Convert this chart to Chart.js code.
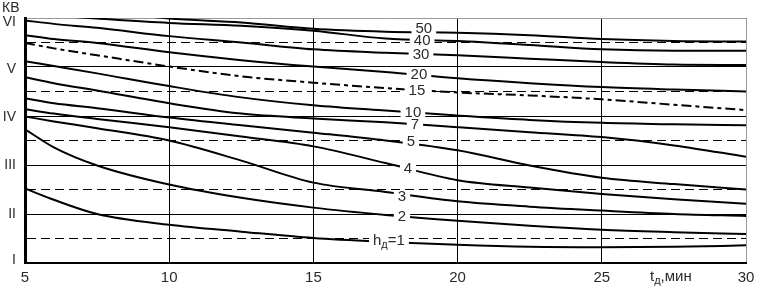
<!DOCTYPE html>
<html>
<head>
<meta charset="utf-8">
<script src="https://cdn.jsdelivr.net/npm/chart.js@4.4.0/dist/chart.umd.min.js"></script>
<style>
  html, body { margin: 0; padding: 0; background: #fff; }
  #chart { display: block; }
</style>
</head>
<body>
<canvas id="chart" width="761" height="290"></canvas>
<script>
// time, min
const tValues = [5, 6, 7.5, 10, 12.5, 15, 17.5, 20, 22.5, 25, 27.5, 30]

// visibility class (1 = I ... 6 = VI) for each h
const h50 = [6.30, 6.24, 6.15, 5.99, 5.91, 5.78, 5.72, 5.70, 5.65, 5.57, 5.53, 5.52]
const h40 = [6.10, 6.05, 5.99, 5.90, 5.84, 5.74, 5.58, 5.53, 5.45, 5.36, 5.33, 5.33]
const h30 = [5.95, 5.88, 5.80, 5.63, 5.50, 5.36, 5.29, 5.24, 5.17, 5.10, 5.05, 5.04]
const h20 = [5.65, 5.57, 5.49, 5.30, 5.14, 5.01, 4.90, 4.77, 4.67, 4.59, 4.54, 4.50]
const h15 = [5.49, 5.38, 5.24, 5.01, 4.81, 4.68, 4.57, 4.48, 4.42, 4.34, 4.23, 4.12]
const h10 = [5.12, 5.02, 4.87, 4.61, 4.38, 4.22, 4.11, 4.01, 3.92, 3.86, 3.83, 3.81]
const h7  = [4.79, 4.67, 4.52, 4.26, 4.05, 3.95, 3.87, 3.77, 3.67, 3.57, 3.40, 3.17]
const h5  = [4.36, 4.26, 4.16, 3.97, 3.81, 3.66, 3.50, 3.30, 2.99, 2.74, 2.61, 2.50]
const h4  = [4.14, 4.05, 3.94, 3.77, 3.58, 3.38, 3.04, 2.69, 2.54, 2.41, 2.30, 2.21]
const h3  = [3.99, 3.89, 3.75, 3.50, 3.09, 2.64, 2.45, 2.26, 2.15, 2.07, 2.00, 1.96]
const h2  = [3.73, 3.36, 2.99, 2.60, 2.33, 2.13, 1.98, 1.86, 1.76, 1.68, 1.63, 1.59]
const h1  = [2.52, 2.29, 2.00, 1.78, 1.64, 1.51, 1.43, 1.37, 1.33, 1.32, 1.33, 1.36]

const curveNames = ['50', '40', '30', '20', '15', '10', '7', '5', '4', '3', '2', '1']
const curveData = [h50, h40, h30, h20, h15, h10, h7, h5, h4, h3, h2, h1]

// where the h labels sit on the curves
const labelT  = [18.83, 18.77, 18.73, 18.66, 18.59, 18.45, 18.52, 18.38, 18.28, 18.07, 18.07, 17.62]
const labelKV = [5.77, 5.53, 5.25, 4.83, 4.51, 4.06, 3.81, 3.48, 2.93, 2.36, 1.94, 1.45]

const romanValues = [1, 2, 3, 4, 5, 6]
const romanNames = ['I', 'II', 'III', 'IV', 'V', 'VI']
const romanShift = [-3, 0, 0, 1, 2, 4]

const FONT = '"Liberation Sans", Arial, sans-serif'
const TEXT_COLOR = '#2a2a2a'

// draw text made of pieces, [text, size, dy]
function drawParts(ctx, parts, x, cy, align) {
    let total = 0
    const widths = parts.map(p => {
        ctx.font = p[1] + 'px ' + FONT
        const w = ctx.measureText(p[0]).width
        total += w
        return w
    })
    let cx = x
    if (align === 'center') cx = x - total / 2
    if (align === 'right') cx = x - total
    parts.forEach((p, i) => {
        ctx.font = p[1] + 'px ' + FONT
        ctx.fillText(p[0], cx, cy + p[2])
        cx += widths[i]
    })
    return total
}

const curveLabelPlugin = {
    id: 'curveLabels',
    afterDatasetsDraw(chart) {
        const ctx = chart.ctx
        const xs = chart.scales.x
        const ys = chart.scales.y
        ctx.save()
        ctx.textBaseline = 'middle'
        ctx.textAlign = 'left'
        for (let i = 0; i < curveNames.length; i++) {
            const px = xs.getPixelForValue(labelT[i])
            const py = ys.getPixelForValue(labelKV[i])
            let parts = [[curveNames[i], 15, 0]]
            if (curveNames[i] === '1') {
                parts = [['h', 15, 0], ['д', 11, 4], ['=1', 15, 0]]
            }
            let w = 0
            parts.forEach(p => {
                ctx.font = p[1] + 'px ' + FONT
                w += ctx.measureText(p[0]).width
            })
            const hgt = curveNames[i] === '1' ? 13 : 12
            ctx.fillStyle = '#fff'
            ctx.fillRect(px - w / 2 - 4, py - hgt / 2, w + 8, hgt)
            ctx.fillStyle = TEXT_COLOR
            drawParts(ctx, parts, px, py, 'center')
        }
        ctx.restore()
    },
    afterDraw(chart) {
        const ctx = chart.ctx
        const area = chart.chartArea
        const ys = chart.scales.y
        ctx.save()
        ctx.textBaseline = 'middle'
        ctx.textAlign = 'left'
        ctx.fillStyle = TEXT_COLOR
        // roman class labels on the left
        romanValues.forEach((v, i) => {
            drawParts(ctx, [[romanNames[i], 14, 0]], area.left - 9, ys.getPixelForValue(v) + romanShift[i], 'right')
        })
        // axis titles
        drawParts(ctx, [['КВ', 14, 0]], 2, 8, 'left')
        drawParts(ctx, [['t', 15, 0], ['д', 11, 4], [',мин', 15, 0]], area.right - 96, area.bottom + 14, 'left')
        ctx.restore()
    }
}

const datasets = curveData.map((vals, i) => ({
    label: curveNames[i],
    data: tValues.map((t, j) => ({ x: t, y: vals[j] })),
    borderColor: '#000',
    borderWidth: 2,
    borderDash: curveNames[i] === '15' ? [10, 4, 4, 4] : [],
    fill: false,
    pointRadius: 0,
    tension: 0.4,
    cubicInterpolationMode: 'monotone'
}))

new Chart(document.getElementById('chart'), {
    type: 'line',
    data: { datasets: datasets },
    options: {
        responsive: false,
        animation: false,
        devicePixelRatio: 1,
        layout: { padding: { top: 18, right: 15, left: 0, bottom: 0 } },
        plugins: {
            legend: { display: false },
            tooltip: { enabled: false }
        },
        scales: {
            x: {
                type: 'linear',
                min: 5,
                max: 30,
                afterFit: s => { s.height = 27 },
                ticks: {
                    stepSize: 5,
                    padding: 6,
                    maxRotation: 0,
                    color: TEXT_COLOR,
                    font: { family: FONT, size: 15 }
                },
                grid: {
                    drawTicks: false,
                    lineWidth: 1,
                    color: c => (c.tick && c.tick.value === 30) ? '#9a9a9a' : '#000'
                },
                border: { color: '#000', width: 2 }
            },
            y: {
                type: 'linear',
                min: 1,
                max: 6,
                afterFit: s => { s.width = 25 },
                ticks: {
                    stepSize: 0.5,
                    autoSkip: false,
                    padding: 9,
                    font: { family: FONT, size: 14 },
                    callback: () => ''
                },
                grid: {
                    drawTicks: false,
                    lineWidth: 1,
                    color: c => (c.tick && c.tick.value === 6) ? '#9a9a9a' : '#000'
                },
                border: {
                    color: '#000',
                    width: 3,
                    dash: c => (c.tick && c.tick.value % 1 !== 0) ? [9, 5] : []
                }
            }
        }
    },
    plugins: [curveLabelPlugin]
})
</script>
</body>
</html>
